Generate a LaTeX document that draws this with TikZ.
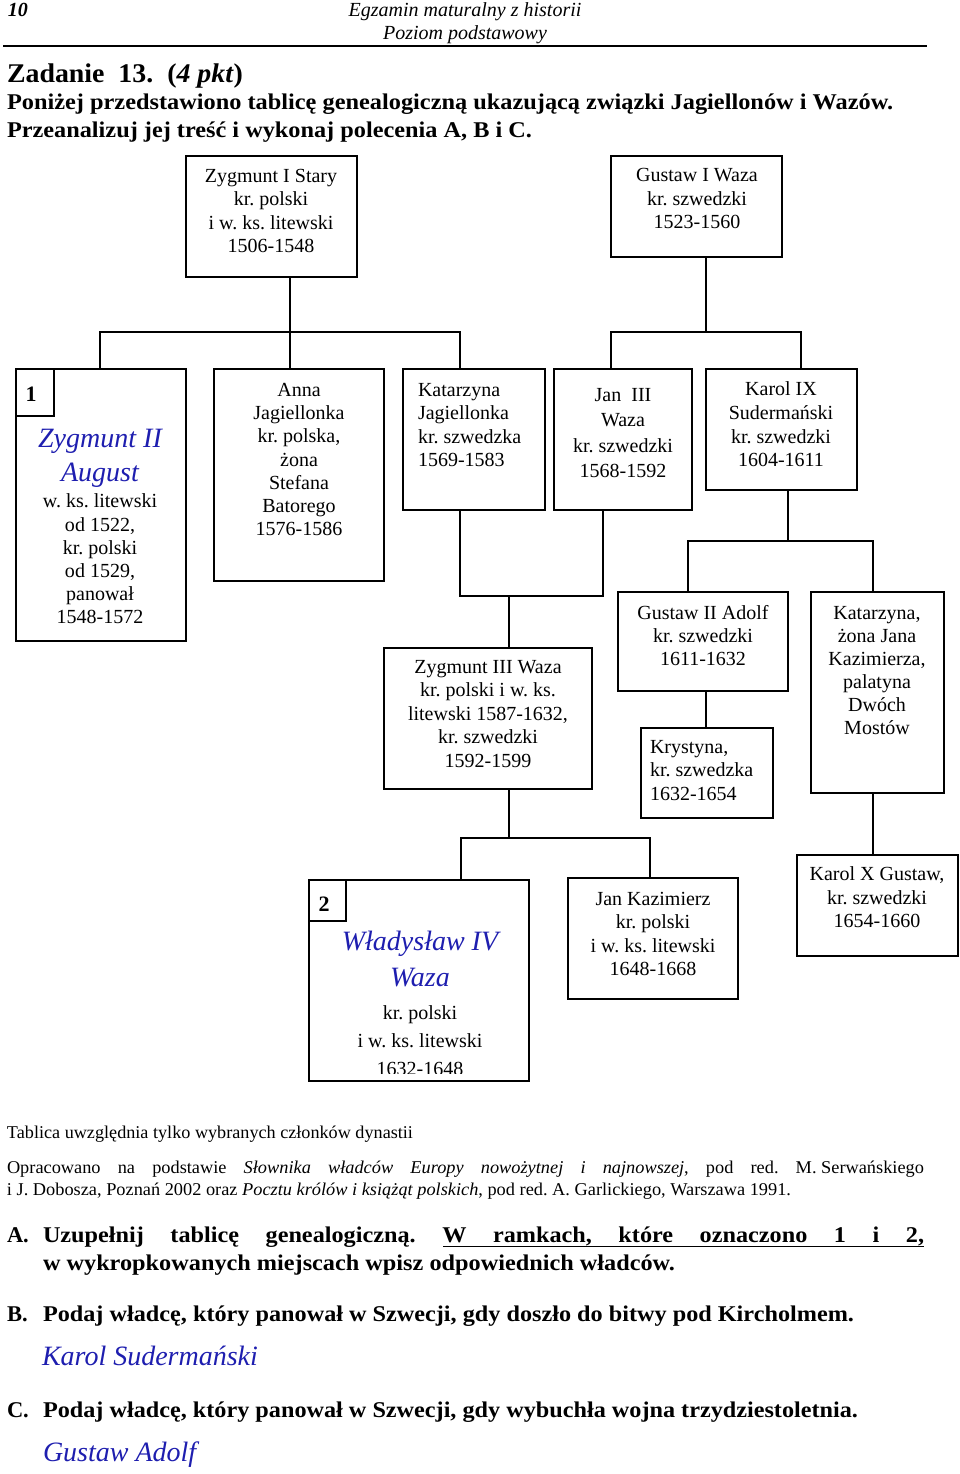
\documentclass[tikz,border=0pt]{standalone}
\usepackage{fontspec}
\setmainfont{Liberation Serif}
\usepackage{graphicx}
\definecolor{ansblue}{RGB}{30,30,175}
\newlength\natB
\newlength\natO
\newcommand\fitto[2]{\resizebox{#1}{\height}{#2}}
\newcommand\srcfont{\fontsize{18}{22}\selectfont}
\newcommand\qfont{\fontsize{22.5}{28}\selectfont\bfseries}
\newcommand\ansfont{\fontsize{28}{34}\selectfont\itshape\color{ansblue}}
\frenchspacing
\begin{document}
\frenchspacing
\settowidth\natB{\qfont Podaj władcę, który panował w Szwecji, gdy doszło do bitwy pod Kircholmem.}
\pgfmathsetmacro\wA{\natB/811*881}
\settowidth\natO{\srcfont i J. Dobosza, Poznań 2002 oraz \textit{Pocztu królów i książąt polskich}, pod red. A. Garlickiego, Warszawa 1991.}
\pgfmathsetmacro\wO{\natO/784*917}
\begin{tikzpicture}[x=1pt,y=-1pt,
  box/.style={draw, line width=1.7pt, inner sep=0pt, outer sep=0pt},
  con/.style={line width=1.7pt},
  txt/.style={inner sep=0pt, outer sep=0pt, align=center, font=\fontsize{20}{#1}\selectfont},
  txt/.default=23.3,
  ltxt/.style={inner sep=0pt, outer sep=0pt, align=left, anchor=west, font=\fontsize{20}{#1}\selectfont},
  ltxt/.default=23.3,
  blue/.style={inner sep=0pt, outer sep=0pt, align=center, font=\fontsize{28}{#1}\selectfont\itshape, text=ansblue},
  num/.style={inner sep=0pt, outer sep=0pt, font=\fontsize{22}{26}\selectfont\bfseries},
  line/.style={inner sep=0pt, outer sep=0pt, anchor=base west}]
\useasboundingbox (0,0) rectangle (960,1474);

% header
\node[line] (pg) at (8,17) {\fontsize{20}{24}\selectfont\bfseries\itshape 10};
\node[inner sep=0pt, anchor=base] (hd1) at (465,17) {\fontsize{20}{24}\selectfont\itshape Egzamin maturalny z historii};
\node[inner sep=0pt, anchor=base] (hd2) at (465,40) {\fontsize{20}{24}\selectfont\itshape Poziom podstawowy};
\draw[line width=1.5pt] (3,46) -- (927,46);
\node[line] (zad) at (7,83) {\fitto{236pt}{\fontsize{27}{32}\selectfont\bfseries Zadanie\ \ 13.\ \ (\textit{4 pkt})}};
\node[line] (int1) at (7,109.5) {\fitto{886pt}{\qfont Poniżej przedstawiono tablicę genealogiczną ukazującą związki Jagiellonów i Wazów.}};
\node[line] (int2) at (7,137.5) {\fitto{525pt}{\qfont Przeanalizuj jej treść i wykonaj polecenia A, B i C.}};

% boxes
\node[box, minimum width=171pt, minimum height=121pt] (zyg1) at (271.5,216.5) {};
\node[box, minimum width=171pt, minimum height=101pt] (gus1) at (696.5,206.5) {};
\node[box, minimum width=170pt, minimum height=272pt] (b1) at (101,505) {};
\node[box, minimum width=38pt, minimum height=47pt] (n1) at (35,392.5) {};
\node[box, minimum width=170pt, minimum height=212pt] (anna) at (299,475) {};
\node[box, minimum width=142pt, minimum height=141pt] (katj) at (474,439.5) {};
\node[box, minimum width=138pt, minimum height=141pt] (jan3) at (623,439.5) {};
\node[box, minimum width=151pt, minimum height=121pt] (karol9) at (781.5,429.5) {};
\node[box, minimum width=208pt, minimum height=141pt] (zyg3) at (488,718.5) {};
\node[box, minimum width=170pt, minimum height=99pt] (gus2) at (703,641.5) {};
\node[box, minimum width=132pt, minimum height=90pt] (kryst) at (707,773) {};
\node[box, minimum width=133pt, minimum height=201pt] (kat) at (877.5,692.5) {};
\node[box, minimum width=161pt, minimum height=101pt] (karol10) at (877.5,905.5) {};
\node[box, minimum width=220pt, minimum height=201pt] (wlad) at (419,980.5) {};
\node[box, minimum width=37pt, minimum height=41pt] (n2) at (327.5,900.5) {};
\node[box, minimum width=170pt, minimum height=121pt] (jankaz) at (653,938.5) {};

% box texts
\node[txt] (tzyg1) at (271,211) {Zygmunt I Stary\\kr. polski\\i w. ks. litewski\\1506-1548};
\node[txt=23.5] (tgus1) at (697,198.5) {Gustaw I Waza\\kr. szwedzki\\1523-1560};
\node[num] (tn1) at (31,394) {1};
\node[blue=34] (tb1a) at (100,458) {Zygmunt II\\August};
\node[txt=23.2] (tb1b) at (100,559) {w. ks. litewski\\od 1522,\\kr. polski\\od 1529,\\panował\\1548-1572};
\node[txt=23.17] (tanna) at (299,459.5) {Anna\\Jagiellonka\\kr. polska,\\żona\\Stefana\\Batorego\\1576-1586};
\node[ltxt] (tkatj) at (418,425) {Katarzyna\\Jagiellonka\\kr. szwedzka\\1569-1583};
\node[txt=25.3] (tjan3) at (623,433) {Jan\ \ III\\Waza\\kr. szwedzki\\1568-1592};
\node[txt=23.7] (tkarol9) at (781,424.5) {Karol IX\\Sudermański\\kr. szwedzki\\1604-1611};
\node[txt=23.5] (tzyg3) at (488,714) {Zygmunt III Waza\\kr. polski i w. ks.\\litewski 1587-1632,\\kr. szwedzki\\1592-1599};
\node[txt=23] (tgus2) at (703,636) {Gustaw II Adolf\\kr. szwedzki\\1611-1632};
\node[ltxt=23.5] (tkryst) at (650,770.5) {Krystyna,\\kr. szwedzka\\1632-1654};
\node[txt=23] (tkat) at (877,670.5) {Katarzyna,\\żona Jana\\Kazimierza,\\palatyna\\Dwóch\\Mostów};
\node[txt=23.5] (tkarol10) at (877,897.5) {Karol X Gustaw,\\kr. szwedzki\\1654-1660};
\node[txt=23.3] (tjankaz) at (653,934) {Jan Kazimierz\\kr. polski\\i w. ks. litewski\\1648-1668};
\node[num] (tn2) at (324,904) {2};
\node[blue=36] (twlada) at (420,959) {Władysław IV\\Waza};
\begin{scope}
\clip (312,990) rectangle (526,1073);
\node[txt=28] (twladb) at (420,1041) {kr. polski\\i w. ks. litewski\\1632-1648};
\end{scope}

% junctions
\coordinate (j1) at (290,332);
\coordinate (jl1) at (100,332);
\coordinate (jr1) at (460,332);
\coordinate (j2) at (706,332);
\coordinate (jl2) at (611,332);
\coordinate (jr2) at (801,332);
\coordinate (ja) at (460,596);
\coordinate (jb) at (603,596);
\coordinate (jc) at (509,596);
\coordinate (jd) at (788,541);
\coordinate (je) at (688,541);
\coordinate (jf) at (873,541);
\coordinate (jg) at (706,710);
\coordinate (jh) at (873,820);
\coordinate (ji) at (509,838);
\coordinate (jj) at (461,838);
\coordinate (jk) at (650,838);

% connectors
\draw[con] (zyg1.south -| j1) -- (j1);
\draw[con] (b1.north -| jl1) -- (jl1) -- (jr1) -- (katj.north -| jr1);
\draw[con] (j1) -- (anna.north -| j1);
\draw[con] (gus1.south -| j2) -- (j2);
\draw[con] (jan3.north -| jl2) -- (jl2) -- (jr2) -- (karol9.north -| jr2);
\draw[con] (katj.south -| ja) -- (ja) -- (jb) -- (jan3.south -| jb);
\draw[con] (jc) -- (zyg3.north -| jc);
\draw[con] (karol9.south -| jd) -- (jd);
\draw[con] (gus2.north -| je) -- (je) -- (jf) -- (kat.north -| jf);
\draw[con] (gus2.south -| jg) -- (kryst.north -| jg);
\draw[con] (kat.south -| jh) -- (karol10.north -| jh);
\draw[con] (zyg3.south -| ji) -- (ji);
\draw[con] (wlad.north -| jj) -- (jj) -- (jk) -- (jankaz.north -| jk);

% notes
\node[line] (tabl) at (7,1138) {\fitto{406pt}{\srcfont Tablica uwzględnia tylko wybranych członków dynastii}};
\node[line] (opr1) at (7,1173) {\fitto{917pt}{\makebox[\wO pt][s]{\srcfont Opracowano na podstawie \textit{Słownika władców Europy nowożytnej i najnowszej}, pod red. M.\hspace{0.25em}Serwańskiego}}};
\node[line] (opr2) at (7,1195) {\fitto{784pt}{\srcfont i J. Dobosza, Poznań 2002 oraz \textit{Pocztu królów i książąt polskich}, pod red. A. Garlickiego, Warszawa 1991.}};

% questions
\node[line] (Alab) at (7,1242) {\qfont A.};
\node[line] (Atxt1) at (43,1242) {\fitto{881pt}{\makebox[\wA pt][s]{\qfont Uzupełnij tablicę genealogiczną. W ramkach, które oznaczono 1 i 2,}}};
\draw[line width=1.4pt] (443,1246.5) -- (924,1246.5);
\node[line] (Atxt2) at (43,1270) {\fitto{632pt}{\qfont w wykropkowanych miejscach wpisz odpowiednich władców.}};
\node[line] (Blab) at (7,1321) {\qfont B.};
\node[line] (Btxt) at (43,1321) {\fitto{811pt}{\qfont Podaj władcę, który panował w Szwecji, gdy doszło do bitwy pod Kircholmem.}};
\node[line] (Bans) at (42,1365) {\ansfont Karol Sudermański};
\node[line] (Clab) at (7,1417) {\qfont C.};
\node[line] (Ctxt) at (43,1417) {\fitto{815pt}{\qfont Podaj władcę, który panował w Szwecji, gdy wybuchła wojna trzydziestoletnia.}};
\node[line] (Cans) at (43,1461) {\ansfont Gustaw Adolf};
\end{tikzpicture}
\end{document}
